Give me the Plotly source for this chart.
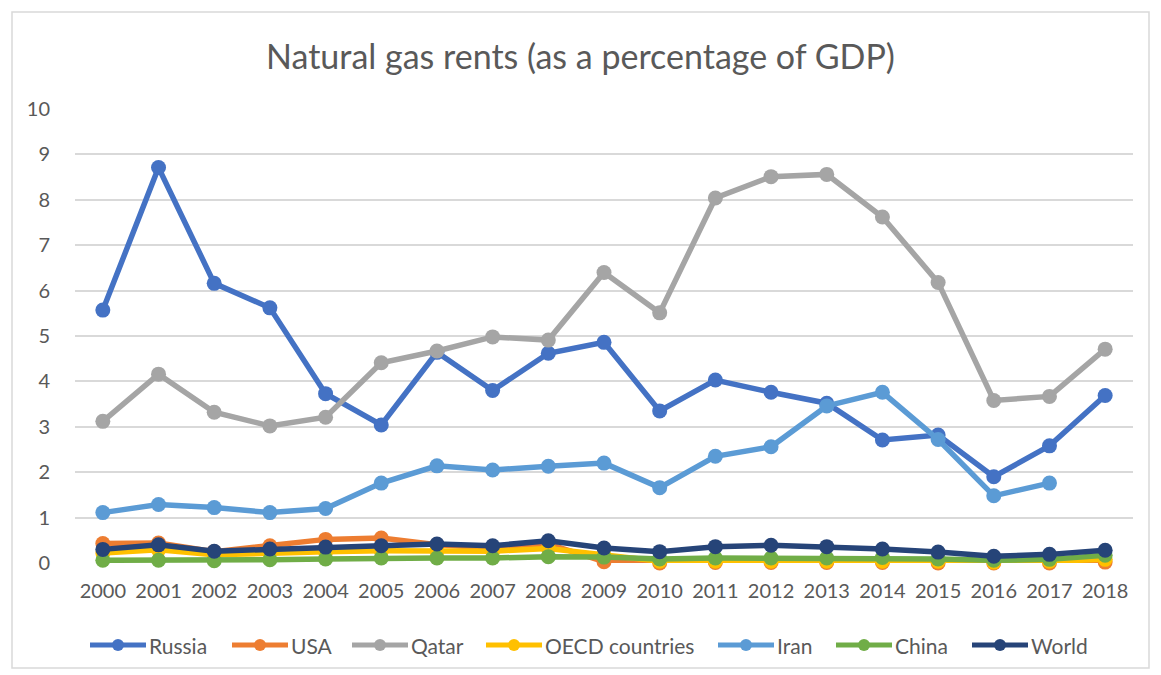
import plotly.graph_objects as go

years = [str(y) for y in range(2000, 2019)]

russia = [5.57, 8.71, 6.16, 5.62, 3.73, 3.04, 4.64, 3.80, 4.62, 4.86, 3.35, 4.03, 3.76, 3.52, 2.71, 2.82, 1.90, 2.58, 3.69]
usa = [0.43, 0.44, 0.25, 0.38, 0.52, 0.55, 0.40, 0.33, 0.42, 0.03, 0.00, 0.01, 0.01, 0.01, 0.01, 0.00, 0.00, 0.00, 0.02]
qatar = [3.12, 4.16, 3.32, 3.02, 3.21, 4.41, 4.67, 4.98, 4.91, 6.40, 5.51, 8.04, 8.51, 8.56, 7.62, 6.18, 3.58, 3.67, 4.71]
oecd = [0.22, 0.29, 0.18, 0.23, 0.25, 0.27, 0.26, 0.26, 0.32, 0.17, 0.04, 0.04, 0.04, 0.04, 0.04, 0.04, 0.02, 0.04, 0.08]
iran = [1.11, 1.29, 1.22, 1.11, 1.20, 1.76, 2.14, 2.05, 2.13, 2.20, 1.66, 2.35, 2.56, 3.46, 3.76, 2.72, 1.48, 1.76, None]
china = [0.06, 0.06, 0.05, 0.07, 0.09, 0.11, 0.11, 0.11, 0.14, 0.13, 0.09, 0.11, 0.11, 0.11, 0.12, 0.09, 0.06, 0.08, 0.17]
world = [0.30, 0.40, 0.26, 0.31, 0.35, 0.38, 0.42, 0.38, 0.49, 0.33, 0.25, 0.36, 0.39, 0.36, 0.31, 0.24, 0.15, 0.19, 0.28]

names = ["Russia", "USA", "Qatar", "OECD countries", "Iran", "China", "World"]
colors = ["#4472C4", "#ED7D31", "#A5A5A5", "#FFC000", "#5B9BD5", "#70AD47", "#264478"]
values = [russia, usa, qatar, oecd, iran, china, world]

# legend layout (pixel left edge of each legend symbol)
legend_px = [90, 232, 352, 486, 718, 836, 972]
legend_py = 645

W, H = 1161, 675
L, R, T, B = 75, 28, 109, 112
PW, PH = W - L - R, H - T - B

def px2x(px):
    return (px - L) / PW

def py2y(py):
    return (H - B - py) / PH

fig = go.Figure()
for name, vals, col in zip(names, values, colors):
    fig.add_trace(go.Scatter(
        x=years, y=vals, name=name, mode="lines+markers",
        line=dict(color=col, width=5.5),
        marker=dict(color=col, size=15),
        connectgaps=False, cliponaxis=False, showlegend=False,
    ))

font_col = "#595959"
shapes = [dict(type="rect", xref="paper", yref="paper",
               x0=px2x(12), x1=px2x(1149), y0=py2y(668), y1=py2y(12),
               line=dict(color="#D9D9D9", width=1.5), fillcolor="rgba(0,0,0,0)", layer="below")]
annotations = []
ly = py2y(legend_py)
r = 6
for name, col, lx in zip(names, colors, legend_px):
    shapes.append(dict(type="line", xref="paper", yref="paper",
                       x0=px2x(lx), x1=px2x(lx + 56), y0=ly, y1=ly,
                       line=dict(color=col, width=5)))
    shapes.append(dict(type="circle", xref="paper", yref="paper",
                       x0=px2x(lx + 28 - r), x1=px2x(lx + 28 + r),
                       y0=py2y(legend_py + r), y1=py2y(legend_py - r),
                       line=dict(color=col, width=0), fillcolor=col))
    annotations.append(dict(xref="paper", yref="paper", x=px2x(lx + 57), y=ly,
                            xanchor="left", yanchor="middle", showarrow=False,
                            text=name, font=dict(family="Lato", size=21, color=font_col)))

fig.update_layout(
    width=W, height=H,
    paper_bgcolor="white", plot_bgcolor="white",
    margin=dict(l=L, r=R, t=T, b=B, autoexpand=False),
    title=dict(text="Natural gas rents (as a percentage of GDP)",
               x=0.5, xanchor="center", y=1 - 57 / H, yanchor="middle",
               font=dict(family="Lato", size=34, color=font_col)),
    font=dict(family="Lato", color=font_col),
    showlegend=False,
    xaxis=dict(type="category", range=[-0.5, 18.5], showgrid=False, showline=False, ticks="",
               tickfont=dict(size=20, color=font_col), fixedrange=True, automargin=False,
               ticklabelstandoff=14),
    yaxis=dict(range=[0, 10], dtick=1, showgrid=True, gridcolor="#D9D9D9", gridwidth=1.5,
               zeroline=False, showline=False, ticks="", automargin=False, fixedrange=True,
               tickfont=dict(size=20, color=font_col), ticklabelstandoff=24),
    shapes=shapes,
    annotations=annotations,
)

fig.write_html("out.html", config={"displayModeBar": False},
               post_script="document.body.style.margin='0';document.body.style.padding='0';")
